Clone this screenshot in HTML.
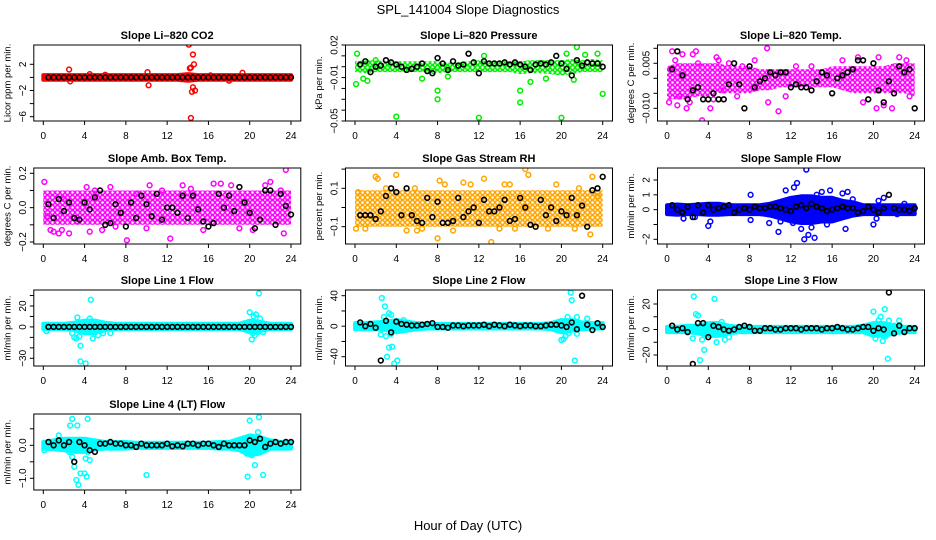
<!DOCTYPE html>
<html><head><meta charset="utf-8"><style>
html,body{margin:0;padding:0;background:#fff;}
svg{display:block;font-family:"Liberation Sans",sans-serif;}
</style></head><body>
<svg id="chart" width="936" height="540" viewBox="0 0 936 540" xmlns="http://www.w3.org/2000/svg">
<text x="468" y="14" text-anchor="middle" font-size="13">SPL_141004  Slope Diagnostics</text>
<text x="468" y="530" text-anchor="middle" font-size="13">Hour of Day (UTC)</text>
</svg>
<script>
// ---- data ----
const hours = [0,1,2,3,4,5,6,7,8,9,10,11,12,13,14,15,16,17,18,19,20,21,22,23,24];
const xTicks = [0,4,8,12,16,20,24];

const co2Lo = [-0.35,-0.35,-0.35,-0.35,-0.35,-0.35,-0.35,-0.35,-0.35,-0.35,-0.35,-0.35,-0.35,-0.35,-0.5,-0.35,-0.35,-0.35,-0.35,-0.35,-0.35,-0.35,-0.35,-0.35,-0.35];
const co2Hi = [0.35,0.35,0.35,0.35,0.35,0.35,0.35,0.35,0.35,0.35,0.35,0.35,0.35,0.35,0.5,0.35,0.35,0.35,0.35,0.35,0.35,0.35,0.35,0.35,0.35];
const co2Pts = [[2.5,1.2],[2.6,-0.6],[10.1,0.8],[10.2,-1.2],[14.1,5],[14.3,-6.2],[14.2,1.4],[14.5,3.5],[14.6,2],[14.4,-2.2],[14.7,-2],[14.3,1.5],[14.5,-1.5],[19.3,0.7],[16.2,0.3],[18,-0.5],[4.5,0.5],[6,0.4]];
const co2Blk = [0,0,0,0,0,0,0,0,0,0,0,0,0,0,0,0,0,0,0,0,0,0,0,0,0,0,0,0,0,0,0,0,0,0,0,0,0,0,0,0,0,0,0,0,0,0,0,0];

const presLo = [-0.005,-0.006,-0.005,-0.005,-0.005,-0.005,-0.005,-0.005,-0.006,-0.005,-0.005,-0.005,-0.005,-0.005,-0.005,-0.005,-0.007,-0.006,-0.006,-0.007,-0.008,-0.007,-0.005,-0.005,-0.005];
const presHi = [0.005,0.006,0.006,0.005,0.005,0.005,0.005,0.005,0.005,0.004,0.004,0.005,0.006,0.005,0.005,0.005,0.005,0.006,0.006,0.006,0.006,0.007,0.006,0.007,0.006];
const presPts = [[0.2,0.012],[0.1,-0.016],[0.8,-0.011],[1.2,-0.013],[4,-0.046],[8,-0.022],[8,-0.030],[12,-0.047],[16,-0.022],[16,-0.033],[20,-0.047],[21.5,0.018],[24,-0.025],[23.5,0.012],[2,0.006],[12.5,0.010],[20.5,0.012],[22.3,0.011],[7.6,-0.004],[17,-0.014],[18.5,-0.011],[21.2,-0.012],[6.5,-0.011],[9,-0.009]];
const presBlk = [0.002,0.005,-0.005,0,0.001,0.006,0.004,0.002,0,-0.003,-0.002,0.000,0.003,-0.004,-0.006,0.008,0.003,-0.003,0.005,0.001,0.002,0.012,0.004,-0.006,0.005,0.003,0.003,0.003,0.004,0.002,0.004,0.002,0,-0.003,0.002,0.003,0.002,0.004,0.010,0.003,-0.002,-0.008,0.006,0.001,0.004,0.003,0.003,0];

const ltLo = [-0.007,-0.007,-0.007,-0.006,-0.006,-0.005,-0.005,-0.005,-0.005,-0.004,-0.004,-0.003,-0.003,-0.003,-0.003,-0.003,-0.003,-0.004,-0.005,-0.005,-0.005,-0.005,-0.005,-0.005,-0.006];
const ltHi = [0.004,0.005,0.005,0.005,0.005,0.005,0.004,0.004,0.004,0.003,0.003,0.003,0.003,0.003,0.003,0.003,0.004,0.004,0.004,0.004,0.004,0.004,0.005,0.005,0.005];
const ltPts = [[0.2,-0.008],[0.5,0.009],[0.8,0.006],[1.5,0.008],[1.9,-0.010],[2.5,0.008],[2.8,0.009],[3.4,-0.014],[4.2,-0.010],[4.8,0.007],[5.5,-0.004],[6.8,-0.006],[8.5,0.006],[9.7,0.010],[9.8,-0.008],[10.8,-0.011],[11.5,-0.006],[17,0.006],[18.5,0.007],[19,-0.008],[20.3,-0.010],[20.5,0.007],[21,-0.009],[21.8,-0.010],[22.5,0.007],[23.2,0.006],[23.5,-0.006],[0.3,0.003],[1.2,-0.006],[3,0.005],[7.3,0.004],[6,0.005],[12.5,0.004],[14,0.004],[1,-0.009],[2.2,-0.008],[4.5,-0.007],[5,0.006]];
const ltBlk = [0.003,0.009,0.001,-0.007,-0.004,-0.003,-0.007,-0.007,-0.005,-0.007,-0.007,-0.002,0.005,-0.002,-0.010,0.004,-0.003,-0.001,0.000,0.002,0.001,0.002,0.002,-0.003,-0.002,-0.003,-0.003,-0.004,-0.001,0.002,0.001,-0.005,0.000,0.001,0.002,0.003,0.006,0.006,-0.007,0.005,-0.004,-0.008,-0.001,-0.005,0.004,0.002,0.003,-0.010];

const boxLo = [-0.1,-0.1,-0.1,-0.1,-0.1,-0.1,-0.1,-0.1,-0.1,-0.1,-0.1,-0.1,-0.1,-0.1,-0.1,-0.1,-0.1,-0.1,-0.1,-0.1,-0.1,-0.1,-0.1,-0.1,-0.1];
const boxHi = [0.1,0.1,0.1,0.1,0.1,0.1,0.1,0.1,0.1,0.1,0.1,0.1,0.1,0.1,0.1,0.1,0.1,0.1,0.1,0.1,0.1,0.1,0.1,0.1,0.1];
const boxPts = [[0.1,0.15],[0.7,-0.13],[1,-0.14],[1.5,-0.15],[1.8,-0.13],[2,0.05],[2.5,-0.15],[3.3,-0.08],[4.2,0.12],[4.5,-0.14],[5,0.1],[5.7,-0.13],[7,-0.11],[8.1,-0.19],[9,0.08],[10,-0.12],[10.3,0.13],[11.5,0.1],[12.3,-0.18],[13.5,0.13],[14.3,0.11],[15.5,-0.13],[16.5,0.14],[17.2,0.14],[18.2,0.13],[20.3,-0.13],[21.5,0.13],[22,0.15],[23.3,-0.15],[23.5,0.22],[23,0.1],[6.5,0.12],[19,-0.12],[0.4,-0.05]];
const boxBlk = [0.02,-0.06,0.05,-0.02,0.03,-0.06,-0.07,0.03,-0.01,0.06,0.1,-0.1,-0.09,0.02,-0.03,-0.11,0.03,-0.06,0.07,0.02,-0.05,0.08,-0.07,0.0,0.0,-0.03,0.07,-0.06,0.07,-0.01,-0.08,-0.11,-0.09,0.08,0.0,0.07,-0.02,0.12,0.03,-0.03,-0.12,-0.07,0.1,0.1,-0.1,0.08,0.01,-0.04];

const rhLo = [-0.1,-0.1,-0.1,-0.1,-0.1,-0.1,-0.1,-0.1,-0.1,-0.1,-0.1,-0.1,-0.1,-0.1,-0.1,-0.1,-0.1,-0.1,-0.1,-0.1,-0.1,-0.1,-0.1,-0.1,-0.1];
const rhHi = [0.09,0.09,0.09,0.09,0.09,0.09,0.09,0.09,0.09,0.09,0.09,0.09,0.09,0.09,0.09,0.09,0.09,0.09,0.09,0.09,0.09,0.09,0.09,0.09,0.09];
const rhPts = [[0.1,-0.11],[0.3,0.08],[1,-0.11],[2,0.16],[2.2,0.15],[4,0.17],[3,0.1],[5,-0.12],[6.5,-0.11],[8,-0.16],[8.2,0.14],[8.7,0.12],[9.5,-0.12],[10.5,0.13],[11.2,0.12],[12.5,0.15],[13.2,-0.18],[14,-0.11],[14.5,0.12],[15,0.12],[15.5,-0.11],[16.5,0.2],[16.8,0.17],[18.7,-0.11],[19.5,0.12],[21.3,-0.11],[21.7,0.1],[22.8,-0.14],[23,0.16],[23.5,0.06],[6,-0.12],[5.8,0.1]];
const rhBlk = [-0.04,-0.04,-0.04,-0.06,-0.02,0.06,0.1,0.08,-0.04,0.1,-0.04,-0.07,-0.08,0.05,-0.05,0.03,-0.08,-0.08,-0.07,0.05,-0.05,-0.02,0.0,-0.08,0.04,-0.02,-0.02,0.0,0.04,-0.07,-0.06,0.05,0.0,-0.09,-0.1,0.04,-0.04,0.0,-0.07,-0.02,-0.04,0.05,-0.04,0.01,-0.1,0.09,0.1,0.16];

const sfLo = [-0.3,-0.35,-0.3,-0.3,-0.35,-0.35,-0.3,-0.3,-0.3,-0.3,-0.4,-0.6,-0.8,-0.9,-0.9,-0.8,-0.8,-0.6,-0.4,-0.3,-0.3,-0.3,-0.3,-0.3,-0.3];
const sfHi = [0.3,0.35,0.3,0.35,0.4,0.4,0.3,0.3,0.3,0.3,0.4,0.6,0.8,0.9,0.9,0.8,0.8,0.6,0.5,0.3,0.3,0.3,0.3,0.3,0.3];
const sfPts = [[1.6,-0.6],[2.7,-0.5],[4,-1.1],[4.2,-0.8],[8.1,1],[8.1,-0.7],[9.9,-0.9],[10.8,-1.5],[11,-0.8],[11.5,1.3],[12.2,-0.9],[12.3,1.5],[12.6,1.8],[13,-1.3],[13.3,-2],[13.5,2.7],[13.7,-1.7],[14,-1.2],[14.3,-1.9],[14.5,1],[15,1.2],[15.5,-1],[15.8,1.3],[17,1.1],[17.3,-1.3],[17.5,1.2],[18,0.7],[20,-1],[20.3,-0.6],[20.5,0.6],[21,0.8],[23,0.4],[22.3,-0.3],[6,0.3]];
const sfBlk = [0.3,0.0,-0.2,0.2,-0.5,0.3,-0.2,0.3,0,0.1,0.2,0.3,-0.2,0,0.1,0.0,0.2,0.1,0.1,0.2,0.2,0.1,0.0,-0.1,0.2,0.3,0.1,0.4,0.2,0.1,-0.1,0.0,0.1,0.2,0.1,0.1,-0.2,-0.1,0.2,0.0,-0.2,0.1,1.0,0.1,0.0,0.0,-0.1,0.1];

const l1Lo = [-2,-2,-2,-3,-6,-6,-3,-2,-2,-2,-2,-2,-2,-2,-2,-2,-2,-2,-2,-2,-5,-4,-2,-2,-2];
const l1Hi = [3,3,3,4,6,6,4,3,3,3,3,3,3,3,3,3,3,3,3,3,6,5,3,3,3];
const l1Pts = [[0.2,2],[0.3,-4],[2.8,-6],[3,-10],[3.3,9],[3.2,-11],[3.5,-9],[3.6,-18],[3.6,-33],[4.1,-35],[4.6,26],[4.8,-11],[5.3,-8],[5.8,-6],[4.5,8],[20,14],[20.2,-12],[20.3,-6],[20.4,10],[20.6,12],[20.8,-5],[20.9,32],[21.3,-5],[20.5,-8],[21,8],[6.5,-6]];
const l1Blk = [0,0,0,0,0,0,0,0,0,0,0,0,0,0,0,0,0,0,0,0,0,0,0,0,0,0,0,0,0,0,0,0,0,0,0,0,0,0,0,0,0,0,0,0,0,0,0,0];

const l2Lo = [-4,-4,-4,-5,-8,-6,-4,-3,-3,-3,-3,-3,-3,-3,-3,-3,-3,-3,-3,-4,-8,-6,-4,-3,-3];
const l2Hi = [4,4,5,6,8,6,4,3,3,3,3,3,3,3,3,3,3,3,3,4,8,8,5,4,4];
const l2Pts = [[2.6,37],[2.8,12],[2.9,26],[3,-13],[2.5,-11],[3.1,-40],[3.3,-28],[3.3,17],[3.5,15],[3.6,-27],[3.5,-10],[3.8,-49],[4.1,-45],[4.7,8],[20,-18],[20.2,-17],[20.4,-13],[20.6,12],[20.9,44],[21,34],[21.3,-45],[21.5,-10],[21.5,12],[22.5,10],[20.7,-9]];
const l2Blk = [5,0,3,-2,-45,7,-8,6,3,2,1,1,2,3,4,-1,-1,-2,1,1,0,1,1,1,2,0,2,1,0,2,1,0,1,1,0,0,1,2,2,1,-1,5,-4,40,2,-5,4,-1];

const l3Lo = [-2,-2,-2,-3,-5,-5,-3,-2,-2,-2,-2,-2,-2,-2,-2,-2,-2,-2,-2,-2,-5,-5,-3,-2,-2];
const l3Hi = [2,2,3,3,5,5,3,2,2,2,2,2,2,2,2,2,2,2,2,3,5,5,3,2,2];
const l3Pts = [[2.6,26],[2.8,12],[3,11],[2.5,-7],[3.2,-24],[3.4,-8],[3.6,-16],[4.6,24],[4.8,-10],[5.3,6],[5.6,-8],[6,-6],[20,14],[20.2,-7],[20.5,7],[20.7,10],[20.9,-9],[21.1,16],[21.4,-23],[21.5,7],[22,3],[22.5,7],[21.2,-5]];
const l3Blk = [3,0,1,-2,-27,5,5,-6,3,2,0,-1,0,2,3,2,-1,-1,1,1,0,0,1,1,1,0,1,1,1,0,1,1,2,1,0,0,1,2,2,-1,1,0,29,-3,3,-2,1,1];

const l4Lo = [-0.1,-0.12,-0.15,-0.2,-0.2,-0.12,-0.1,-0.1,-0.1,-0.08,-0.08,-0.08,-0.08,-0.08,-0.08,-0.08,-0.08,-0.1,-0.1,-0.15,-0.3,-0.25,-0.1,-0.1,-0.1];
const l4Hi = [0.1,0.15,0.2,0.2,0.2,0.15,0.1,0.1,0.1,0.08,0.08,0.08,0.08,0.08,0.08,0.08,0.08,0.1,0.1,0.2,0.3,0.25,0.15,0.1,0.1];
const l4Pts = [[1.5,0.3],[2.5,-0.2],[2.6,0.6],[2.8,0.8],[2.8,-0.35],[3,-0.65],[3.2,-1.05],[3.4,-1.2],[3.3,0.6],[3.6,-0.85],[4,-0.85],[4.1,-0.4],[4.2,-0.95],[4.3,0.8],[4.5,-0.45],[4.3,-0.2],[10,-0.9],[19.8,-0.95],[20,0.75],[20.5,-0.6],[20.8,0.4],[20.9,0.85],[21.3,-0.9],[19.7,-0.25],[20.2,-0.3],[0.1,-0.15]];
const l4Blk = [0.1,0,0.15,0,0.1,-0.5,0.1,0,-0.15,-0.2,0.05,0.05,0.1,0.05,0.05,0.0,0.0,-0.05,0.05,0,0,0,0,0.05,-0.03,0,-0.03,0.05,0.05,0,0.05,0.05,0,-0.05,0.05,0,0,0,0,0.15,0.1,0.2,-0.05,0.05,0.1,0.05,0.1,0.1];

// ---- panel layout ----
const colX0 = [43.3, 355, 667];
const rowTop = [45, 168, 290, 414];
const panels = [
 {name:'co2',title:'Slope Li\u2013820 CO2',yl:'Licor ppm per min.',c:0,r:0,ya:[2,64.3,-6,116.7],ticks:[-6,-4,-2,0,2],labels:[[2,'2'],[-2,'\u22122'],[-6,'\u22126']],col:'#ff0000',tex:false,lo:co2Lo,hi:co2Hi,pts:co2Pts,blk:co2Blk},
 {name:'pressure',title:'Slope Li\u2013820 Pressure',yl:'kPa per min.',c:1,r:0,ya:[0.02,45,-0.05,121],ticks:[0.02,0.01,0,-0.01,-0.02,-0.03,-0.04,-0.05],labels:[[0.02,'0.02'],[-0.01,'\u22120.01'],[-0.05,'\u22120.05']],col:'#00ee00',tex:true,lo:presLo,hi:presHi,pts:presPts,blk:presBlk},
 {name:'li-temp',title:'Slope Li\u2013820 Temp.',yl:'degrees C per min.',c:2,r:0,ya:[0.005,63.3,-0.010,108.3],ticks:[0.01,0.005,0,-0.005,-0.01],labels:[[0.005,'0.005'],[-0.01,'\u22120.010']],col:'#ff00ff',tex:true,lo:ltLo,hi:ltHi,pts:ltPts,blk:ltBlk},
 {name:'box-temp',title:'Slope Amb. Box Temp.',yl:'degrees C per min.',c:0,r:1,ya:[0.2,173.3,-0.2,242],ticks:[0.2,0.1,0,-0.1,-0.2],labels:[[0.2,'0.2'],[0,'0.0'],[-0.2,'\u22120.2']],col:'#ff00ff',tex:true,lo:boxLo,hi:boxHi,pts:boxPts,blk:boxBlk},
 {name:'gas-rh',title:'Slope Gas Stream RH',yl:'percent per min.',c:1,r:1,ya:[0.1,188.3,-0.1,226.7],ticks:[0.2,0.1,0,-0.1],labels:[[0.1,'0.1'],[-0.1,'\u22120.1']],col:'#ffa500',tex:true,lo:rhLo,hi:rhHi,pts:rhPts,blk:rhBlk},
 {name:'sample-flow',title:'Slope Sample Flow',yl:'ml/min per min.',c:2,r:1,ya:[2,180,-2,239.3],ticks:[2,1,0,-1,-2],labels:[[2,'2'],[1,'1'],[0,'0'],[-2,'\u22122']],col:'#0000ff',tex:false,lo:sfLo,hi:sfHi,pts:sfPts,blk:sfBlk},
 {name:'line1-flow',title:'Slope Line 1 Flow',yl:'ml/min per min.',c:0,r:2,ya:[20,306,-30,358.3],ticks:[30,20,10,0,-10,-20,-30],labels:[[20,'20'],[0,'0'],[-30,'\u221230']],col:'#00ffff',tex:false,lo:l1Lo,hi:l1Hi,pts:l1Pts,blk:l1Blk},
 {name:'line2-flow',title:'Slope Line 2 Flow',yl:'ml/min per min.',c:1,r:2,ya:[40,295.7,-40,356.7],ticks:[40,20,0,-20,-40],labels:[[40,'40'],[0,'0'],[-40,'\u221240']],col:'#00ffff',tex:false,lo:l2Lo,hi:l2Hi,pts:l2Pts,blk:l2Blk},
 {name:'line3-flow',title:'Slope Line 3 Flow',yl:'ml/min per min.',c:2,r:2,ya:[20,304,-20,355],ticks:[20,10,0,-10,-20],labels:[[20,'20'],[0,'0'],[-20,'\u221220']],col:'#00ffff',tex:false,lo:l3Lo,hi:l3Hi,pts:l3Pts,blk:l3Blk},
 {name:'line4-flow',title:'Slope Line 4 (LT) Flow',yl:'ml/min per min.',c:0,r:3,ya:[0,445.3,-1,478.3],ticks:[0.5,0,-0.5,-1],labels:[[0,'0.0'],[-1,'\u22121.0']],col:'#00ffff',tex:false,lo:l4Lo,hi:l4Hi,pts:l4Pts,blk:l4Blk}
];

const NS='http://www.w3.org/2000/svg';
const svg=document.getElementById('chart');
function mk(tag,attrs,parent,txt){const e=document.createElementNS(NS,tag);for(const k in attrs)e.setAttribute(k,attrs[k]);if(txt!==undefined)e.textContent=txt;(parent||svg).appendChild(e);return e;}
const XSPAN=247.7;
const defs=mk('defs',{});

panels.forEach(p=>{
  const x0=colX0[p.c], top=rowTop[p.r], bot=top+76;
  const X=h=>x0+h*XSPAN/24;
  const Y=v=>p.ya[1]+(v-p.ya[0])*(p.ya[3]-p.ya[1])/(p.ya[2]-p.ya[0]);
  let fill=p.col;
  if(p.tex){
    const pat=mk('pattern',{id:'pat-'+p.name,width:5,height:5,patternUnits:'userSpaceOnUse'},defs);
    mk('circle',{cx:2.5,cy:2.5,r:2,fill:'none',stroke:p.col,'stroke-width':1.5},pat);
    fill='url(#pat-'+p.name+')';
  }
  const g=mk('g',{});
  
  
  const clipId='clip-'+p.name;
  const cp=mk('clipPath',{id:clipId},g);
  mk('rect',{x:x0-9.5,y:top,width:267,height:76},cp);
  const plot=mk('g',{'clip-path':'url(#'+clipId+')'},g);
  
  
  let d='M'+hours.map((h,i)=>X(h).toFixed(1)+','+Y(p.hi[i]).toFixed(1)).join('L');
  d+='L'+hours.slice().reverse().map((h,j)=>{const i=hours.length-1-j;return X(h).toFixed(1)+','+Y(p.lo[i]).toFixed(1);}).join('L')+'Z';
  const band=mk('path',{d:d,fill:fill,stroke:p.tex?'none':p.col,'stroke-width':4,'stroke-linejoin':'round'},plot);
  
  
  p.pts.forEach(pt=>{
    const c=mk('circle',{cx:X(pt[0]),cy:Y(pt[1]),r:2.4,fill:'none',stroke:p.col,'stroke-width':1.5},plot);
    
    
  });
  p.blk.forEach((v,i)=>{
    const c=mk('circle',{cx:X(0.5*(i+1)),cy:Y(v),r:2.4,fill:'none',stroke:'#000','stroke-width':1.6},plot);
    
    
  });
  const box=mk('rect',{x:x0-9.5,y:top,width:267,height:76,fill:'none',stroke:'#000','stroke-width':1},g);
  
  
  const t=mk('text',{x:x0+XSPAN/2,y:top-6,'text-anchor':'middle','font-size':11,'font-weight':'bold'},g,p.title);
  
  
  xTicks.forEach(h=>{
    mk('line',{x1:X(h),x2:X(h),y1:bot,y2:bot+4,stroke:'#000','stroke-width':1},g);
    const tl=mk('text',{x:X(h),y:bot+18,'text-anchor':'middle','font-size':10},g,String(h));
    
    
  });
  p.ticks.forEach(v=>{
    mk('line',{x1:x0-9.5,x2:x0-13.5,y1:Y(v),y2:Y(v),stroke:'#000','stroke-width':1},g);
  });
  p.labels.forEach(l=>{
    const yy=Y(l[0]), xx=x0-17.5;
    const tl=mk('text',{x:xx,y:yy,'text-anchor':'middle','font-size':10,transform:'rotate(-90 '+xx+' '+yy+')'},g,l[1]);
    
    
  });
  const yc=top+38, xl=x0-33;
  const yt=mk('text',{x:xl,y:yc,'text-anchor':'middle','font-size':9.5,transform:'rotate(-90 '+xl+' '+yc+')'},g,p.yl);
  
  
});
</script>
</body></html>
